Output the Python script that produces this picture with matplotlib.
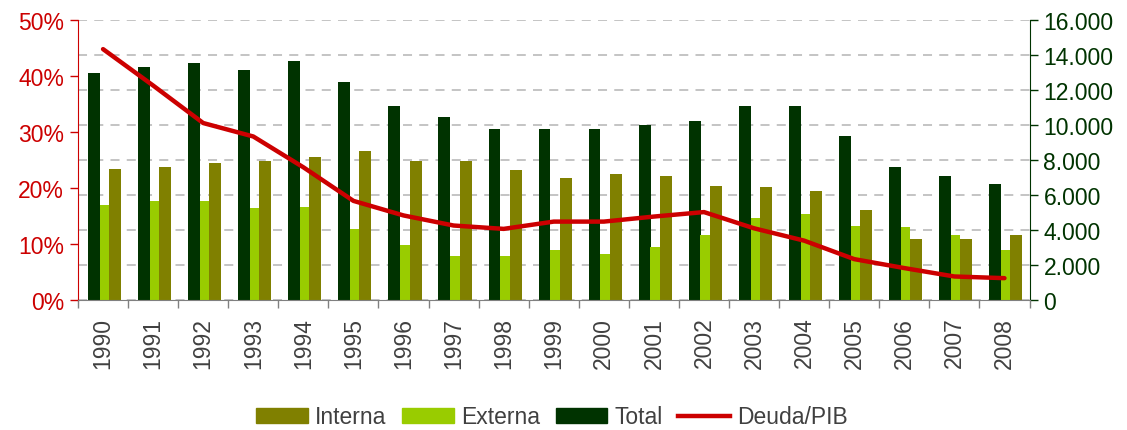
import matplotlib as mpl
mpl.use('Agg')
import matplotlib.pyplot as plt
import numpy as np
from matplotlib.patches import Patch
from matplotlib.lines import Line2D
from matplotlib.ticker import FuncFormatter

plt.rcParams['font.family'] = ['Liberation Sans', 'DejaVu Sans']

years = ['1990', '1991', '1992', '1993', '1994', '1995', '1996', '1997', '1998', '1999',
         '2000', '2001', '2002', '2003', '2004', '2005', '2006', '2007', '2008']
total = [13000, 13290, 13520, 13170, 13630, 12430, 11110, 10480, 9790, 9790,
         9790, 10020, 10250, 11110, 11110, 9390, 7610, 7090, 6630]
externa = [5430, 5660, 5660, 5260, 5310, 4050, 3140, 2500, 2500, 2850,
           2620, 3020, 3710, 4680, 4910, 4230, 4170, 3710, 2850]
interna = [7490, 7610, 7840, 7950, 8180, 8530, 7950, 7950, 7440, 6980,
           7210, 7090, 6520, 6460, 6230, 5140, 3480, 3480, 3710]
deuda_pib = [44.8, 38.3, 31.6, 29.2, 23.7, 17.7, 15.1, 13.3, 12.7, 14.0,
             14.0, 14.9, 15.7, 12.8, 10.6, 7.3, 5.7, 4.2, 3.9]

RED = '#CC0000'
DARK = '#003300'
LIGHT = '#99CC00'
OLIVE = '#808000'
TXT = '#404040'
FS = 16.5

fig = plt.figure(figsize=(11.27, 4.31), dpi=100)
ax = fig.add_axes([78 / 1127, 1 - 301 / 431, (1029.5 - 78) / 1127, 280 / 431])
ax2 = ax.twinx()

x = np.arange(len(years))

# bars on the right axis
ax2.bar(x - 0.185, total, width=0.235, color=DARK, zorder=2)
ax2.bar(x + 0.025, externa, width=0.19, color=LIGHT, zorder=2)
ax2.bar(x + 0.24, interna, width=0.24, color=OLIVE, zorder=3)
ax2.set_ylim(0, 16000)
ax2.set_yticks(np.arange(0, 16001, 2000))
ax2.yaxis.set_major_formatter(FuncFormatter(lambda v, p: f'{int(v):,}'.replace(',', '.')))
ax2.set_axisbelow(True)
ax2.grid(axis='y', color='#BFBFBF', linestyle=(0, (5, 4)), linewidth=1.3)
ax2.tick_params(axis='y', colors=DARK, labelsize=FS, length=6, width=1, pad=4)
for s in ['left', 'top', 'bottom']:
    ax2.spines[s].set_visible(False)
ax2.spines['right'].set_color(DARK)

# line on the left axis, drawn on top
ax.set_zorder(ax2.get_zorder() + 1)
ax.patch.set_visible(False)
ax.plot(x, deuda_pib, color=RED, linewidth=3.2, solid_capstyle='round', zorder=5)
ax.set_ylim(0, 50)
ax.set_yticks(np.arange(0, 51, 10))
ax.yaxis.set_major_formatter(FuncFormatter(lambda v, p: f'{int(v)}%'))
ax.tick_params(axis='y', colors=RED, labelsize=FS, length=6, width=1, pad=4)
ax.spines['left'].set_color(RED)
ax.spines['top'].set_visible(False)
ax.spines['right'].set_visible(False)
ax.spines['bottom'].set_color('#808080')

ax.set_xlim(-0.5, len(years) - 0.5)
ax.set_xticks(np.arange(-0.5, len(years), 1))
ax.set_xticklabels([])
ax.tick_params(axis='x', which='major', colors='#808080', length=6, width=1)
ax.set_xticks(x, labels=years, minor=True)
ax.tick_params(axis='x', which='minor', length=0, pad=12, labelsize=FS, labelcolor=TXT,
               labelrotation=90)

handles = [Patch(color=OLIVE, label='Interna'),
           Patch(color=LIGHT, label='Externa'),
           Patch(color=DARK, label='Total'),
           Line2D([], [], color=RED, linewidth=3.2, label='Deuda/PIB')]
leg = fig.legend(handles=handles, loc='center', bbox_to_anchor=(552 / 1127, 1 - 418 / 431),
                 ncol=4, frameon=False, fontsize=FS, handlelength=2.25, handleheight=0.65,
                 handletextpad=0.3, columnspacing=0.7)
for t in leg.get_texts():
    t.set_color(TXT)

plt.savefig('out.png', dpi=100)
